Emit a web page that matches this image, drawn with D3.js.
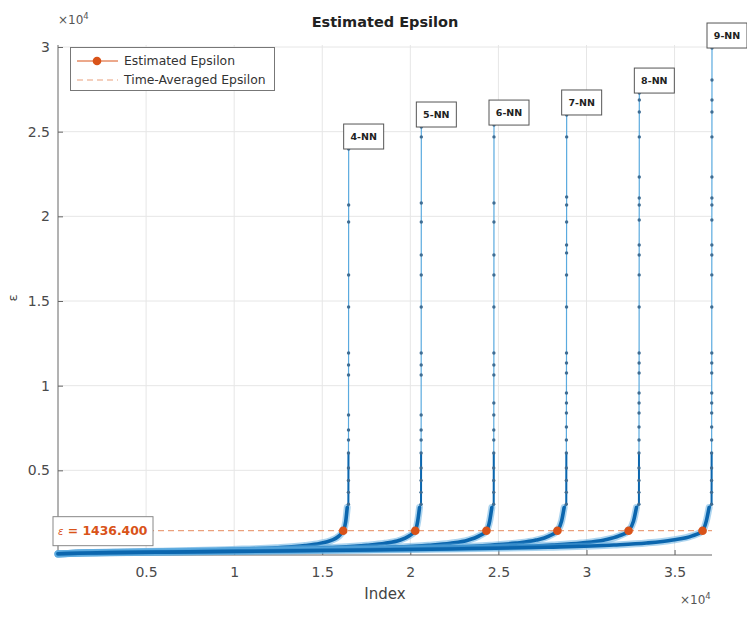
<!DOCTYPE html>
<html>
<head>
<meta charset="utf-8">
<script src="https://cdn.jsdelivr.net/npm/d3@7"></script>
<style>
  html, body { margin: 0; padding: 0; background: #fff; }
  svg { display: block; font-family: "DejaVu Sans", sans-serif; }
</style>
</head>
<body>
<svg id="chart" width="747" height="619"></svg>
<script>
// k-distance curves (sorted neighbour distances), one per neighbourhood size
const nnLabels = ["4-NN", "5-NN", "6-NN", "7-NN", "8-NN", "9-NN"];
const seriesLength = [16500, 20625, 24750, 28875, 33000, 37125];
const kneeIndex = [16190, 20280, 24320, 28350, 32390, 36590];
const epsilonAvg = 1436.4;

// smooth part of each sorted curve: [index, distance]
const body4 = [[1,60],[825,110],[3300,170],[6600,240],[9900,330],[12375,430],[14025,560],[14850,680],[15510,860],[15923,1100],[16190,1436],[16335,2000],[16418,2800]];
const body5 = [[1,62],[1031,112],[4125,172],[8250,245],[12375,335],[15469,440],[17531,570],[18563,690],[19388,870],[19903,1110],[20280,1436],[20419,2000],[20522,2800]];
const body6 = [[1,64],[1238,115],[4950,175],[9900,250],[14850,340],[18563,445],[21038,575],[22275,695],[23265,875],[23884,1115],[24320,1436],[24503,2000],[24626,2800]];
const body7 = [[1,66],[1444,118],[5775,178],[11550,255],[17325,345],[21656,450],[24544,580],[25988,700],[27143,880],[27864,1120],[28350,1436],[28586,2000],[28731,2800]];
const body8 = [[1,68],[1650,120],[6600,180],[13200,258],[19800,350],[24750,455],[28050,585],[29700,705],[31020,885],[31845,1125],[32390,1436],[32670,2000],[32835,2800]];
const body9 = [[1,70],[1856,122],[7425,183],[14850,262],[22275,355],[27844,460],[31556,590],[33413,710],[34898,890],[36000,1130],[36590,1436],[36800,2000],[36960,2800]];

// largest distances, ascending; they occupy the final indices of each curve
const tail4 = [3000,3700,4400,5140,6020,6790,7380,8270,10630,11220,11930,14645,16535,19665,20670,23975];
const tail5 = [3000,3700,4400,5140,6020,6790,7380,8270,10630,11220,11930,14645,16535,17720,19665,20790,24690,25275];
const tail6 = [3000,3700,4400,5140,6020,6790,7380,8270,8980,10630,11220,11930,14645,16535,17720,19665,20790,24690,25390];
const tail7 = [3000,3700,4400,5140,6020,6790,7560,8390,8980,9570,10750,11340,11930,14645,16535,17840,18310,19665,20670,21140,24690,25985];
const tail8 = [3000,3700,4400,5140,6020,6790,7560,8390,8980,9570,10750,11340,11930,14645,16540,17720,18310,19780,20670,21080,22320,24690,26160,26870,27280];
const tail9 = [3000,3700,4400,5140,6020,6790,7560,8390,8980,9570,10750,11340,11930,14645,16540,17720,18310,19780,20670,21080,22320,24690,26160,26870,28050,29940];

const xTicks = [5000, 10000, 15000, 20000, 25000, 30000, 35000];
const yTicks = [5000, 10000, 15000, 20000, 25000, 30000];

const bodies = [body4, body5, body6, body7, body8, body9];
const tails = [tail4, tail5, tail6, tail7, tail8, tail9];

const BLUE = "#0b66ae", BLUE_LIGHT = "#5aaadf", DOT = "#3f6d93";
const ORANGE = "#D95319", ORANGE_DASH = "#eaa07c";

const svg = d3.select("#chart");
const L = 58, R = 712, T = 45, B = 555;

const x = d3.scaleLinear().domain([0, 37125]).range([L, R]);
const y = d3.scaleLinear().domain([0, 30000]).range([B, 47]);

// grid
const grid = svg.append("g");
grid.selectAll(".gx").data(xTicks).join("line")
  .attr("x1", d => x(d)).attr("x2", d => x(d)).attr("y1", B).attr("y2", T)
  .attr("stroke", "#e6e6e6").attr("stroke-width", 1);
grid.selectAll(".gy").data(yTicks).join("line")
  .attr("x1", L).attr("x2", R).attr("y1", d => y(d)).attr("y2", d => y(d))
  .attr("stroke", "#e6e6e6").attr("stroke-width", 1);

// axes
const xAxis = d3.axisBottom(x).tickValues(xTicks).tickFormat(d => d3.format("~g")(d / 1e4))
  .tickSizeInner(-5).tickSizeOuter(0).tickPadding(12);
const yAxis = d3.axisLeft(y).tickValues(yTicks).tickFormat(d => d3.format("~g")(d / 1e4))
  .tickSizeInner(-5).tickSizeOuter(0).tickPadding(8);

const gx = svg.append("g").attr("transform", `translate(0,${B})`).call(xAxis);
const gy = svg.append("g").attr("transform", `translate(${L},0)`).call(yAxis);
[gx, gy].forEach(g => {
  g.select(".domain").remove();
  g.selectAll(".tick line").attr("stroke", "#666");
  g.selectAll(".tick text").attr("fill", "#4a4a4a").style("font-size", "14px")
    .style("font-family", "DejaVu Sans, sans-serif");
});
svg.append("line").attr("x1", L).attr("x2", L).attr("y1", T).attr("y2", B + 0.5)
  .attr("stroke", "#666").attr("stroke-width", 1);
svg.append("line").attr("x1", L).attr("x2", R).attr("y1", B).attr("y2", B)
  .attr("stroke", "#666").attr("stroke-width", 1);

// curves
const plot = svg.append("g");
const smooth = d3.line().x(d => x(d[0])).y(d => y(d[1])).curve(d3.curveMonotoneX);
const straight = d3.line().x(d => x(d[0])).y(d => y(d[1]));

bodies.forEach((body, i) => {
  const n = tails[i].length;
  const last = seriesLength[i];
  const tailPts = tails[i].map((v, j) => [last - (n - 1 - j), v]);
  const g = plot.append("g");
  // thin connecting line through the whole curve
  g.append("path").attr("d", straight(body.concat(tailPts)))
    .attr("fill", "none").attr("stroke", BLUE_LIGHT).attr("stroke-width", 1.2);
  // lower run of the tail, where points still sit close together
  g.append("path").attr("d", straight(body.slice(-1).concat(tailPts.filter(d => d[1] <= 6100))))
    .attr("fill", "none").attr("stroke", BLUE).attr("stroke-width", 2);
  // dense part of the curve
  g.append("path").attr("d", smooth(body))
    .attr("fill", "none").attr("stroke", BLUE_LIGHT).attr("stroke-width", 7).attr("opacity", 0.5)
    .attr("stroke-linecap", "round");
  g.append("path").attr("d", smooth(body))
    .attr("fill", "none").attr("stroke", BLUE).attr("stroke-width", 3.6)
    .attr("stroke-linecap", "round");
  // isolated large distances
  g.selectAll("circle").data(tailPts).join("circle")
    .attr("cx", d => x(d[0])).attr("cy", d => y(d[1])).attr("r", 1.7)
    .attr("fill", DOT);
});

// time-averaged epsilon
svg.append("line")
  .attr("x1", x(0)).attr("x2", x(37125)).attr("y1", y(epsilonAvg)).attr("y2", y(epsilonAvg))
  .attr("stroke", ORANGE_DASH).attr("stroke-width", 1.2).attr("stroke-dasharray", "6,4");

// estimated epsilon (knee) markers
svg.append("g").selectAll("circle").data(kneeIndex).join("circle")
  .attr("cx", d => x(d)).attr("cy", y(epsilonAvg)).attr("r", 4.3)
  .attr("fill", ORANGE);

// k-NN labels at each curve's maximum
nnLabels.forEach((lab, i) => {
  const tail = tails[i];
  const px = x(seriesLength[i]);
  const py = y(tail[tail.length - 1]);
  const g = svg.append("g");
  g.append("rect").attr("x", px - 5).attr("y", py - 25).attr("width", 40).attr("height", 25)
    .attr("fill", "#fff").attr("stroke", "#555").attr("stroke-width", 1);
  g.append("text").attr("x", px + 15).attr("y", py - 12.5).attr("dy", "0.35em")
    .attr("text-anchor", "middle").attr("font-weight", "bold").attr("font-size", "9.5px")
    .attr("fill", "#222").text(lab);
});

// epsilon value label
const eg = svg.append("g");
eg.append("rect").attr("x", 53).attr("y", y(epsilonAvg) - 14).attr("width", 100).attr("height", 29)
  .attr("fill", "#fff").attr("stroke", "#888").attr("stroke-width", 1);
const et = eg.append("text").attr("x", 58).attr("y", y(epsilonAvg)).attr("dy", "0.35em")
  .attr("fill", ORANGE).attr("font-size", "12.4px");
et.append("tspan").attr("font-style", "italic").attr("font-size", "10px").text("ε");
et.append("tspan").attr("font-weight", "bold").text(" = " + epsilonAvg.toFixed(3));

// legend
const lg = svg.append("g");
lg.append("rect").attr("x", 70.5).attr("y", 47.5).attr("width", 204).attr("height", 43)
  .attr("fill", "#fff").attr("stroke", "#777").attr("stroke-width", 1);
lg.append("line").attr("x1", 77).attr("x2", 118).attr("y1", 61).attr("y2", 61)
  .attr("stroke", ORANGE).attr("stroke-width", 1);
lg.append("circle").attr("cx", 97).attr("cy", 61).attr("r", 4.3).attr("fill", ORANGE);
lg.append("line").attr("x1", 77).attr("x2", 118).attr("y1", 80).attr("y2", 80)
  .attr("stroke", ORANGE_DASH).attr("stroke-width", 1.2).attr("stroke-dasharray", "6,4");
lg.append("text").attr("x", 124).attr("y", 61).attr("dy", "0.35em").attr("font-size", "12.4px")
  .attr("fill", "#333").text("Estimated Epsilon");
lg.append("text").attr("x", 124).attr("y", 80).attr("dy", "0.35em").attr("font-size", "12.4px")
  .attr("fill", "#333").text("Time-Averaged Epsilon");

// title and axis labels
svg.append("text").attr("x", (L + R) / 2).attr("y", 27).attr("text-anchor", "middle")
  .attr("font-weight", "bold").attr("font-size", "14.5px").attr("fill", "#222").text("Estimated Epsilon");
svg.append("text").attr("x", (L + R) / 2).attr("y", 599).attr("text-anchor", "middle")
  .attr("font-size", "15px").attr("fill", "#444").text("Index");
svg.append("text").attr("transform", "translate(17,298) rotate(-90)").attr("text-anchor", "middle")
  .attr("font-size", "13px").attr("fill", "#444").text("ε");

// exponent markers
function exponent(xp, yp) {
  const t = svg.append("text").attr("x", xp).attr("y", yp).attr("font-size", "12px").attr("fill", "#555");
  t.append("tspan").text("×10");
  t.append("tspan").attr("dy", -5).attr("font-size", "8.5px").text("4");
}
exponent(58, 24);
exponent(680, 604);
</script>
</body>
</html>
